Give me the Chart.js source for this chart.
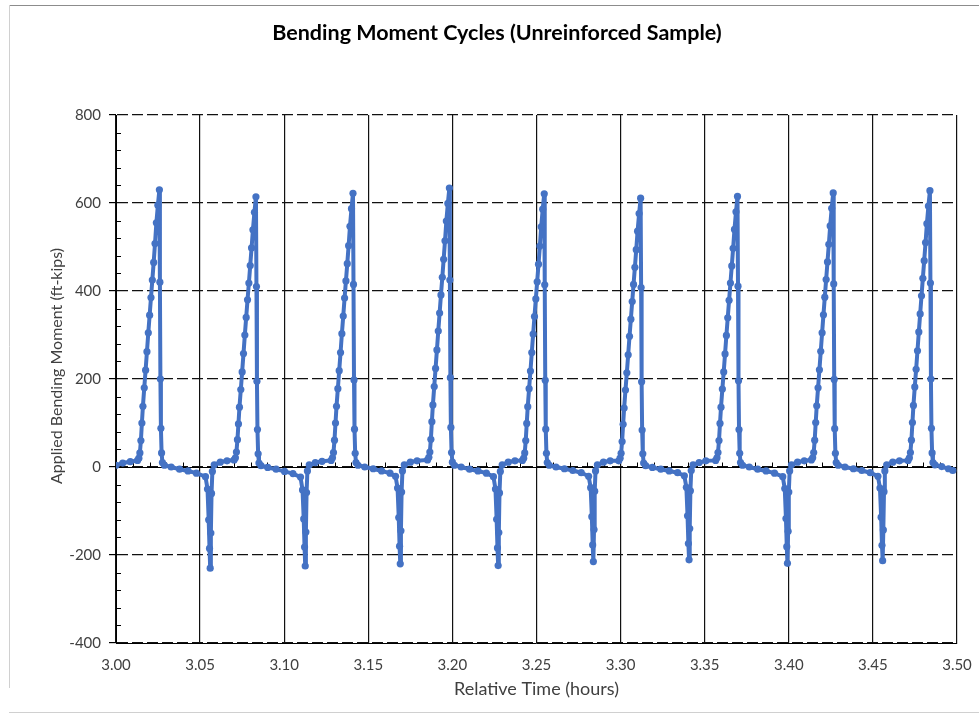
<!DOCTYPE html>
<html>
<head>
<meta charset="utf-8">
<title>Bending Moment Cycles</title>
<script src="https://cdn.jsdelivr.net/npm/chart.js@4"></script>
<style>
  html, body { margin: 0; padding: 0; background: #fff; }
  #wrap { width: 979px; height: 715px; position: relative; }
</style>
</head>
<body>
<div id="wrap"><canvas id="chart" width="979" height="715"></canvas></div>
<script>
// relative time (hours), one row per load cycle
const timeHours = [
  3.0000, 3.0040, 3.0085,
  3.0128, 3.0136, 3.0142, 3.0148, 3.0154, 3.0160, 3.0168, 3.0176, 3.0184, 3.0192, 3.0200, 3.0208, 3.0216, 3.0224, 3.0232, 3.0240, 3.0249, 3.0258, 3.0261, 3.0264, 3.0267, 3.0271, 3.0276, 3.0288, 3.0328, 3.0378, 3.0428, 3.0478, 3.0532, 3.0544, 3.0551, 3.0556, 3.0560, 3.0564, 3.0568, 3.0573, 3.0584, 3.0620, 3.0660,
  3.0702, 3.0710, 3.0716, 3.0722, 3.0728, 3.0734, 3.0742, 3.0750, 3.0758, 3.0766, 3.0774, 3.0782, 3.0790, 3.0798, 3.0806, 3.0814, 3.0823, 3.0832, 3.0835, 3.0838, 3.0841, 3.0845, 3.0850, 3.0862, 3.0902, 3.0952, 3.1002, 3.1052, 3.1097, 3.1109, 3.1116, 3.1121, 3.1125, 3.1129, 3.1133, 3.1138, 3.1149, 3.1185, 3.1225,
  3.1279, 3.1287, 3.1293, 3.1299, 3.1305, 3.1311, 3.1319, 3.1327, 3.1335, 3.1343, 3.1351, 3.1359, 3.1367, 3.1375, 3.1383, 3.1391, 3.1400, 3.1409, 3.1412, 3.1415, 3.1418, 3.1422, 3.1427, 3.1439, 3.1479, 3.1529, 3.1579, 3.1629, 3.1662, 3.1674, 3.1681, 3.1686, 3.1690, 3.1694, 3.1698, 3.1703, 3.1714, 3.1750, 3.1790,
  3.1852, 3.1860, 3.1866, 3.1872, 3.1878, 3.1884, 3.1892, 3.1900, 3.1908, 3.1916, 3.1924, 3.1932, 3.1940, 3.1948, 3.1956, 3.1964, 3.1973, 3.1982, 3.1985, 3.1988, 3.1991, 3.1995, 3.2000, 3.2012, 3.2052, 3.2102, 3.2152, 3.2202, 3.2244, 3.2256, 3.2263, 3.2268, 3.2272, 3.2276, 3.2280, 3.2285, 3.2296, 3.2332, 3.2372,
  3.2416, 3.2424, 3.2430, 3.2436, 3.2442, 3.2448, 3.2456, 3.2464, 3.2472, 3.2480, 3.2488, 3.2496, 3.2504, 3.2512, 3.2520, 3.2528, 3.2537, 3.2546, 3.2549, 3.2552, 3.2555, 3.2559, 3.2564, 3.2576, 3.2616, 3.2666, 3.2716, 3.2766, 3.2810, 3.2822, 3.2829, 3.2834, 3.2838, 3.2842, 3.2846, 3.2851, 3.2862, 3.2898, 3.2938,
  3.2989, 3.2997, 3.3003, 3.3009, 3.3015, 3.3021, 3.3029, 3.3037, 3.3045, 3.3053, 3.3061, 3.3069, 3.3077, 3.3085, 3.3093, 3.3101, 3.3110, 3.3119, 3.3122, 3.3125, 3.3128, 3.3132, 3.3137, 3.3149, 3.3189, 3.3239, 3.3289, 3.3339, 3.3379, 3.3391, 3.3398, 3.3403, 3.3407, 3.3411, 3.3415, 3.3420, 3.3431, 3.3467, 3.3507,
  3.3565, 3.3573, 3.3579, 3.3585, 3.3591, 3.3597, 3.3605, 3.3613, 3.3621, 3.3629, 3.3637, 3.3645, 3.3653, 3.3661, 3.3669, 3.3677, 3.3686, 3.3695, 3.3698, 3.3701, 3.3704, 3.3708, 3.3713, 3.3725, 3.3765, 3.3815, 3.3865, 3.3915, 3.3964, 3.3976, 3.3983, 3.3988, 3.3992, 3.3996, 3.4000, 3.4005, 3.4016, 3.4052, 3.4092,
  3.4134, 3.4142, 3.4148, 3.4154, 3.4160, 3.4166, 3.4174, 3.4182, 3.4190, 3.4198, 3.4206, 3.4214, 3.4222, 3.4230, 3.4238, 3.4246, 3.4255, 3.4264, 3.4267, 3.4270, 3.4273, 3.4277, 3.4282, 3.4294, 3.4334, 3.4384, 3.4434, 3.4484, 3.4530, 3.4542, 3.4549, 3.4554, 3.4558, 3.4562, 3.4566, 3.4571, 3.4582, 3.4618, 3.4658,
  3.4709, 3.4717, 3.4723, 3.4729, 3.4735, 3.4741, 3.4749, 3.4757, 3.4765, 3.4773, 3.4781, 3.4789, 3.4797, 3.4805, 3.4813, 3.4821, 3.4830, 3.4839, 3.4842, 3.4845, 3.4848, 3.4852, 3.4857, 3.4869, 3.4909, 3.4949, 3.4975
];

// applied bending moment (ft-kips), same rows
const momentFtKips = [
  4, 9, 12,
  15, 20, 32, 60, 100, 138, 180, 220, 262, 305, 345, 385, 425, 465, 508, 555, 595, 630, 420, 200, 88, 32, 10, 4, 0, -5, -9, -14, -22, -50, -120, -185, -230, -150, -60, -10, 5, 11, 14,
  16, 21, 34, 62, 98, 136, 176, 216, 258, 300, 340, 380, 418, 458, 498, 539, 579, 614, 410, 195, 85, 30, 9, 3, -1, -5, -10, -15, -23, -52, -118, -182, -225, -148, -58, -9, 5, 10, 13,
  15, 21, 33, 61, 100, 138, 178, 219, 260, 303, 343, 384, 423, 462, 503, 547, 587, 622, 415, 198, 86, 31, 10, 4, 0, -4, -9, -14, -21, -48, -115, -180, -220, -145, -57, -9, 5, 11, 14,
  16, 22, 34, 63, 103, 141, 183, 224, 266, 309, 350, 391, 431, 472, 514, 559, 599, 634, 425, 203, 90, 33, 11, 4, 0, -5, -9, -14, -22, -50, -119, -184, -224, -149, -59, -10, 5, 11, 14,
  15, 20, 32, 60, 99, 137, 178, 218, 260, 302, 342, 382, 421, 461, 502, 546, 586, 621, 414, 197, 86, 31, 10, 4, 0, -4, -8, -13, -21, -47, -113, -177, -215, -142, -55, -9, 5, 11, 14,
  14, 20, 31, 58, 97, 134, 175, 214, 255, 297, 336, 376, 415, 454, 494, 536, 576, 611, 408, 194, 84, 30, 9, 3, -1, -5, -9, -13, -20, -46, -111, -174, -211, -140, -54, -8, 5, 10, 14,
  15, 21, 33, 60, 99, 136, 177, 216, 257, 299, 339, 379, 418, 457, 497, 540, 580, 615, 411, 196, 85, 31, 10, 4, 0, -5, -9, -14, -22, -49, -117, -181, -219, -146, -57, -9, 5, 11, 14,
  16, 21, 33, 61, 101, 139, 180, 221, 263, 305, 346, 386, 426, 466, 506, 548, 588, 623, 416, 199, 87, 31, 10, 4, 0, -4, -8, -13, -21, -48, -114, -178, -213, -143, -56, -9, 5, 11, 14,
  15, 21, 33, 61, 101, 140, 182, 222, 264, 307, 348, 389, 429, 469, 510, 553, 593, 628, 418, 200, 88, 32, 10, 5, 1, -4, -8
];

const xTicks = [3.00, 3.05, 3.10, 3.15, 3.20, 3.25, 3.30, 3.35, 3.40, 3.45, 3.50];
const yTicks = [-400, -200, 0, 200, 400, 600, 800];
const chartTitle = "Bending Moment Cycles (Unreinforced Sample)";
const yTitle = "Applied Bending Moment (ft-kips)";

const lineBlue = "#4472C4";
const fontFamily = "Lato, 'Open Sans', sans-serif";
const labelFont = { family: fontFamily, size: 15 };

const points = timeHours.map((t, i) => ({ x: t, y: momentFtKips[i] }));

// white background, thin frame, title and y title (both sit off-centre in the original)
const framePlugin = {
  id: "frame",
  beforeDraw(chart) {
    const c = chart.ctx;
    c.save();
    c.fillStyle = "#fff";
    c.fillRect(0, 0, chart.width, chart.height);
    c.lineWidth = 1;
    c.strokeStyle = "#8c8c8c";
    c.beginPath(); c.moveTo(9, 5.5); c.lineTo(chart.width, 5.5); c.stroke();
    c.strokeStyle = "#d0d0d0";
    c.beginPath(); c.moveTo(9.5, 5); c.lineTo(9.5, 688); c.stroke();
    c.beginPath(); c.moveTo(9, 712.5); c.lineTo(chart.width, 712.5); c.stroke();

    c.fillStyle = "#000";
    c.font = "bold 21.5px " + fontFamily;
    c.textAlign = "center";
    c.textBaseline = "middle";
    c.fillText(chartTitle, 497, 33);

    c.fillStyle = "#404040";
    c.font = "16px " + fontFamily;
    c.translate(57, 366);
    c.rotate(-Math.PI / 2);
    c.fillText(yTitle, 0, 0);
    c.restore();
  }
};

// minor tick marks and the solid axis line at zero
const minorTicks = {
  id: "minorTicks",
  beforeDatasetsDraw(chart) {
    const { ctx, scales: { x, y } } = chart;
    const y0 = Math.round(y.getPixelForValue(0)) + 0.5;
    ctx.save();
    ctx.strokeStyle = "#000";
    ctx.lineWidth = 1;
    ctx.beginPath();
    ctx.moveTo(x.left, y0); ctx.lineTo(x.right, y0);
    for (let v = -360; v < 800; v += 40) {
      if (v % 200 === 0) continue;
      const py = Math.round(y.getPixelForValue(v)) + 0.5;
      ctx.moveTo(x.left, py); ctx.lineTo(x.left + 5, py);
    }
    for (let k = 1; k < 50; k++) {
      if (k % 5 === 0) continue;
      const px = Math.round(x.getPixelForValue(3 + k / 100)) + 0.5;
      ctx.moveTo(px, y0); ctx.lineTo(px, y0 - 5);
    }
    ctx.stroke();
    ctx.restore();
  }
};

new Chart(document.getElementById("chart"), {
  type: "scatter",
  data: {
    datasets: [
      {
        label: "Applied Bending Moment",
        data: points,
        showLine: true,
        borderColor: lineBlue,
        borderWidth: 4,
        backgroundColor: lineBlue,
        pointRadius: 3.6,
        pointBorderWidth: 0,
        tension: 0
      }
    ]
  },
  options: {
    responsive: false,
    animation: false,
    layout: { padding: { top: 115, right: 22, bottom: 0, left: 0 } },
    plugins: {
      legend: { display: false },
      tooltip: { enabled: false },
      title: { display: false }
    },
    scales: {
      x: {
        type: "linear",
        min: 3.0,
        max: 3.5,
        afterBuildTicks: (scale) => { scale.ticks = xTicks.map((v) => ({ value: v })); },
        afterFit: (scale) => {
          scale.height = 72;
          scale.paddingLeft = 0;
          scale.paddingRight = 0;
        },
        grid: { color: "#111", lineWidth: 1.2, drawTicks: false },
        border: { display: true, color: "#000", width: 1 },
        ticks: {
          color: "#404040",
          font: labelFont,
          padding: 13,
          maxRotation: 0,
          callback: (v) => Number(v).toFixed(2)
        },
        title: {
          display: true,
          text: "Relative Time (hours)",
          color: "#404040",
          font: { family: fontFamily, size: 18 },
          padding: { top: 0, bottom: 15 }
        }
      },
      y: {
        min: -400,
        max: 800,
        afterBuildTicks: (scale) => { scale.ticks = yTicks.map((v) => ({ value: v })); },
        afterFit: (scale) => {
          scale.width = 116;
          scale.paddingTop = 0;
          scale.paddingBottom = 0;
        },
        grid: { color: "#111", lineWidth: 1.2, tickLength: 7, tickColor: "#000" },
        border: { display: true, color: "#000", width: 1, dash: [11, 4] },
        ticks: { color: "#404040", font: labelFont, padding: 8 },
        title: { display: false }
      }
    }
  },
  plugins: [framePlugin, minorTicks]
});
</script>
</body>
</html>
